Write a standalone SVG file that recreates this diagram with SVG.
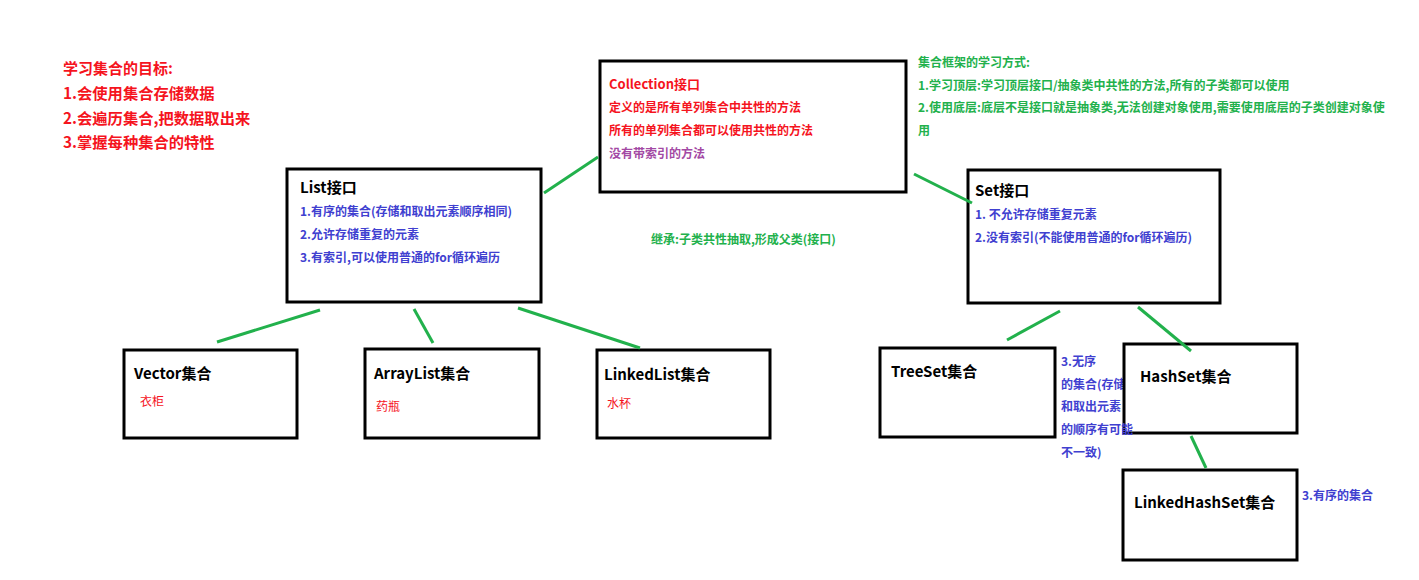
<svg xmlns="http://www.w3.org/2000/svg" width="1419" height="580" viewBox="0 0 1419 580">
<style>
text{font-family:"Noto Sans CJK SC","Liberation Sans",sans-serif;font-weight:bold}
.box{fill:#fff;stroke:#000;stroke-width:3}
.t{fill:#000;font-size:15px}
.red{fill:#f5141e}
.blue{fill:#4040d0;font-size:12px}
.green{fill:#22b14c;font-size:12px}
.purple{fill:#a349a4;font-size:12px}
.obj{fill:#f5141e;font-size:12px;font-weight:normal}
.conn line{stroke:#22b14c;stroke-width:3}
</style>
<rect width="1419" height="580" fill="#fff"/>
<g id="goals">
<text class="red" x="63" y="74" font-size="15">学习集合的目标:</text>
<text class="red" x="63" y="99" font-size="15.3">1.会使用集合存储数据</text>
<text class="red" x="63" y="124" font-size="15.3">2.会遍历集合,把数据取出来</text>
<text class="red" x="63" y="148" font-size="15.3">3.掌握每种集合的特性</text>
</g>
<g id="learn">
<text class="green" x="918" y="67">集合框架的学习方式:</text>
<text class="green" x="918" y="90">1.学习顶层:学习顶层接口/抽象类中共性的方法,所有的子类都可以使用</text>
<text class="green" x="918" y="112">2.使用底层:底层不是接口就是抽象类,无法创建对象使用,需要使用底层的子类创建对象使</text>
<text class="green" x="918" y="135">用</text>
</g>
<g id="inherit">
<text class="green" x="651" y="244">继承:子类共性抽取,形成父类(接口)</text>
</g>
<g id="collection">
<rect class="box" x="600" y="61" width="306" height="131"/>
<text class="red" x="609" y="89" font-size="13">Collection接口</text>
<text class="red" x="609" y="112" font-size="12">定义的是所有单列集合中共性的方法</text>
<text class="red" x="609" y="135" font-size="12">所有的单列集合都可以使用共性的方法</text>
<text class="purple" x="609" y="158">没有带索引的方法</text>
</g>
<g id="list">
<rect class="box" x="287" y="169" width="254" height="133"/>
<text class="t" x="300" y="193" font-size="14">List接口</text>
<text class="blue" x="300" y="216">1.有序的集合(存储和取出元素顺序相同)</text>
<text class="blue" x="300" y="239">2.允许存储重复的元素</text>
<text class="blue" x="300" y="262">3.有索引,可以使用普通的for循环遍历</text>
</g>
<g id="set">
<rect class="box" x="968" y="170" width="252" height="133"/>
<text class="t" x="975" y="196" font-size="12.5">Set接口</text>
<text class="blue" x="975" y="219">1. 不允许存储重复元素</text>
<text class="blue" x="975" y="242">2.没有索引(不能使用普通的for循环遍历)</text>
</g>
<g id="vector">
<rect class="box" x="124" y="350" width="173" height="88"/>
<text class="t" x="134" y="379">Vector集合</text>
<text class="obj" x="140" y="406">衣柜</text>
</g>
<g id="arraylist">
<rect class="box" x="365" y="349" width="174" height="89"/>
<text class="t" x="374" y="379">ArrayList集合</text>
<text class="obj" x="376" y="411">药瓶</text>
</g>
<g id="linkedlist">
<rect class="box" x="597" y="350" width="173" height="88"/>
<text class="t" x="604" y="380">LinkedList集合</text>
<text class="obj" x="607" y="408">水杯</text>
</g>
<g id="treeset">
<rect class="box" x="880" y="348" width="175" height="89"/>
<text class="t" x="891" y="377">TreeSet集合</text>
</g>
<g id="unordered">
<text class="blue" x="1061" y="366">3.无序</text>
<text class="blue" x="1061" y="389">的集合(存储</text>
</g>
<g id="hashset">
<rect class="box" x="1124" y="344" width="173" height="89"/>
<text class="t" x="1140" y="382">HashSet集合</text>
</g>
<g id="unordered2">
<text class="blue" x="1061" y="411">和取出元素</text>
<text class="blue" x="1061" y="434">的顺序有可能</text>
<text class="blue" x="1061" y="457">不一致)</text>
</g>
<g id="linkedhashset">
<rect class="box" x="1123" y="470" width="174" height="90"/>
<text class="t" x="1134" y="508">LinkedHashSet集合</text>
<text class="blue" x="1302" y="500">3.有序的集合</text>
</g>
<g class="conn" id="connectors">
<line x1="544" y1="193" x2="598" y2="157"/>
<line x1="914" y1="174" x2="972" y2="203"/>
<line x1="320" y1="310" x2="217" y2="342"/>
<line x1="414" y1="309" x2="433" y2="343"/>
<line x1="518" y1="308" x2="640" y2="348"/>
<line x1="1060" y1="311" x2="1007" y2="340"/>
<line x1="1138" y1="307" x2="1191" y2="351"/>
<line x1="1191" y1="436" x2="1206" y2="468"/>
</g>
</svg>
